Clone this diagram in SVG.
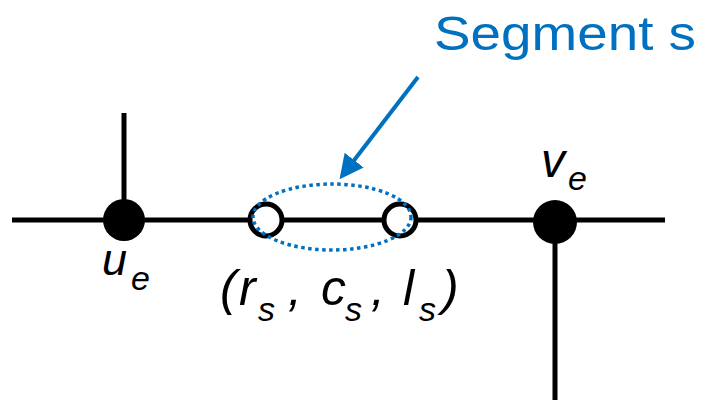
<svg xmlns="http://www.w3.org/2000/svg" width="701" height="400" viewBox="0 0 701 400">
<style>
.edge{stroke:#000;stroke-width:5;fill:none}
.lbl{font-family:"Liberation Sans",Arial,sans-serif;fill:#000;font-style:italic}
.sub{font-size:34px}
.blue{fill:#0070C0;font-family:"Liberation Sans",Arial,sans-serif}
</style>
<defs>
<marker id="ah" markerWidth="6" markerHeight="6" refX="5" refY="3" orient="auto" markerUnits="strokeWidth">
<path d="M0,0 L6,3 L0,6 Z" fill="#0070C0"/>
</marker>
</defs>
<rect width="701" height="400" fill="#fff"/>
<g id="connectors">
<line class="edge" x1="12" y1="220" x2="665" y2="220"/>
<line class="edge" x1="124" y1="113" x2="124" y2="220"/>
<line class="edge" x1="555" y1="222" x2="555" y2="400"/>
<line x1="418" y1="77" x2="342" y2="176" stroke="#0070C0" stroke-width="4" marker-end="url(#ah)"/>
</g>
<g id="u_e">
<circle cx="124" cy="220" r="21" fill="#000"/>
<text class="lbl" font-size="45"><tspan x="102" y="275">u</tspan><tspan class="sub" x="131" y="290">e</tspan></text>
</g>
<g id="v_e">
<circle cx="555" cy="222" r="22" fill="#000"/>
<text class="lbl" font-size="48"><tspan x="541" y="177">v</tspan><tspan class="sub" x="568" y="190">e</tspan></text>
</g>
<g id="segment">
<circle cx="266" cy="220" r="16" fill="#fff" stroke="#000" stroke-width="5"/>
<circle cx="400" cy="220" r="16" fill="#fff" stroke="#000" stroke-width="5"/>
<ellipse cx="332" cy="217" rx="79" ry="33" fill="none" stroke="#0070C0" stroke-width="3.5" stroke-dasharray="3.5 3.5"/>
<text class="lbl" font-size="50"><tspan x="220" y="305">(</tspan><tspan x="239" y="305">r</tspan><tspan class="sub" x="258" y="321">s</tspan><tspan x="288" y="305">,</tspan><tspan x="321" y="305">c</tspan><tspan class="sub" x="345" y="321">s</tspan><tspan x="371" y="305">,</tspan><tspan x="403" y="305">l</tspan><tspan class="sub" x="419" y="321">s</tspan><tspan x="442" y="305">)</tspan></text>
</g>
<g id="label">
<text class="blue" x="434" y="50" font-size="49" textLength="262" lengthAdjust="spacingAndGlyphs">Segment s</text>
</g>
</svg>
